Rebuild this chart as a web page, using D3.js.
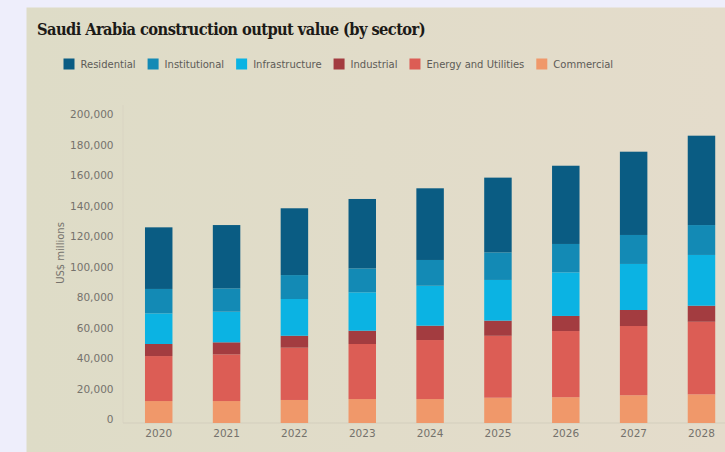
<!DOCTYPE html>
<html lang="en">

<head>
    <meta charset="UTF-8">
    <title>Saudi Arabia construction output value (by sector)</title>
    <script src="https://d3js.org/d3.v7.min.js"></script>
    <style>
        body {
            margin: 0;
            padding: 0;
            background: #eeeefb;
            font-family: "DejaVu Sans", sans-serif;
        }

        #chart {
            width: 725px;
            height: 452px;
        }
    </style>
</head>

<body>
    <div id="chart"></div>

    <script>
        // Data (US$ millions, thousands)
        const years = ['2020', '2021', '2022', '2023', '2024', '2025', '2026', '2027', '2028'];
        const sectors = ['Residential', 'Institutional', 'Infrastructure', 'Industrial', 'Energy and Utilities', 'Commercial'];
        const sectorColors = ['#0a5c83', '#138ab5', '#0bb3e3', '#a33c40', '#dc5d55', '#f0986a'];

        const commercial = [14.4, 14.4, 15.1, 15.7, 15.7, 16.6, 16.9, 18.2, 18.8];
        const energy = [29.5, 30.6, 34.3, 36.1, 38.7, 40.6, 43.4, 45.4, 47.6];
        const industrial = [7.9, 7.9, 7.8, 8.7, 9.4, 9.9, 9.9, 10.5, 10.5];
        const infrastructure = [20.1, 20.1, 24.1, 25.2, 26.2, 26.7, 28.6, 30.2, 33.3];
        const institutional = [16.0, 15.3, 15.7, 15.7, 16.9, 18.1, 18.6, 19.0, 19.6];
        const residential = [40.4, 41.5, 43.8, 45.5, 47.0, 49.0, 51.3, 54.6, 58.6];

        const yTicks = [0, 20000, 40000, 60000, 80000, 100000, 120000, 140000, 160000, 180000, 200000];

        // stacking order, bottom to top
        const stackKeys = ['Commercial', 'Energy and Utilities', 'Industrial', 'Infrastructure', 'Institutional', 'Residential'];
        const rows = years.map((y, i) => ({
            year: y,
            'Commercial': commercial[i] * 1000,
            'Energy and Utilities': energy[i] * 1000,
            'Industrial': industrial[i] * 1000,
            'Infrastructure': infrastructure[i] * 1000,
            'Institutional': institutional[i] * 1000,
            'Residential': residential[i] * 1000
        }));

        const width = 725;
        const height = 452;

        const svg = d3.select('#chart')
            .append('svg')
            .attr('width', width)
            .attr('height', height);

        const grad = svg.append('defs').append('linearGradient')
            .attr('id', 'panelBg')
            .attr('x1', 0).attr('x2', 1).attr('y1', 0).attr('y2', 0);
        grad.append('stop').attr('offset', 0).attr('stop-color', '#dedcc7');
        grad.append('stop').attr('offset', 1).attr('stop-color', '#e4dccb');

        // panel
        svg.append('rect')
            .attr('x', 26.5)
            .attr('y', 7.5)
            .attr('width', width - 26.5)
            .attr('height', height - 7.5)
            .attr('fill', 'url(#panelBg)');

        // title
        svg.append('text')
            .attr('x', 37)
            .attr('y', 35)
            .attr('textLength', 388)
            .attr('lengthAdjust', 'spacingAndGlyphs')
            .style('font-family', '"DejaVu Serif", serif')
            .style('font-stretch', 'condensed')
            .style('font-weight', 'bold')
            .style('font-size', '16.5px')
            .style('letter-spacing', '-0.6px')
            .style('fill', '#1c1a17')
            .text('Saudi Arabia construction output value (by sector)');

        // legend
        const color = d3.scaleOrdinal().domain(sectors).range(sectorColors);
        const legend = svg.append('g').attr('transform', 'translate(63.5,58.5)');
        let lx = 0;
        sectors.forEach(s => {
            const g = legend.append('g').attr('transform', `translate(${lx},0)`);
            g.append('rect')
                .attr('width', 11)
                .attr('height', 11)
                .attr('fill', color(s));
            const t = g.append('text')
                .attr('x', 17)
                .attr('y', 9.5)
                .style('font-size', '10px')
                .style('fill', '#5d5b57')
                .text(s);
            lx += 17 + t.node().getComputedTextLength() + 12;
        });

        // scales
        const x = d3.scaleBand()
            .domain(years)
            .range([124.8, 735.4])
            .paddingInner(0.595)
            .paddingOuter(0.2975);

        const y = d3.scaleLinear()
            .domain([0, 200000])
            .range([423, 118]);

        // faint axis lines
        svg.append('line')
            .attr('x1', 123).attr('x2', 123)
            .attr('y1', 105).attr('y2', 423)
            .attr('stroke', '#d9d4c2');
        svg.append('line')
            .attr('x1', 123).attr('x2', width)
            .attr('y1', 423).attr('y2', 423)
            .attr('stroke', '#d3cebd');

        // y axis
        const yAxis = d3.axisLeft(y)
            .tickValues(yTicks)
            .tickSize(0)
            .tickPadding(0)
            .tickFormat(d3.format(','));

        svg.append('g')
            .attr('transform', 'translate(113.5,-3.5)')
            .call(yAxis)
            .call(g => g.select('.domain').remove())
            .selectAll('text')
            .style('font-family', '"DejaVu Sans", sans-serif')
            .style('font-size', '10.5px')
            .style('fill', '#75726c');

        // x axis
        const xAxis = d3.axisBottom(x).tickSize(0).tickPadding(0);
        svg.append('g')
            .attr('transform', 'translate(0,430)')
            .call(xAxis)
            .call(g => g.select('.domain').remove())
            .selectAll('text')
            .style('font-family', '"DejaVu Sans", sans-serif')
            .style('font-size', '10.5px')
            .style('fill', '#75726c');

        // y axis title
        svg.append('text')
            .attr('transform', 'translate(64,253) rotate(-90)')
            .attr('text-anchor', 'middle')
            .style('font-size', '10px')
            .style('fill', '#75726c')
            .text('US$ millions');

        // stacked bars
        const stack = d3.stack().keys(stackKeys);
        const series = stack(rows);

        svg.append('g')
            .selectAll('g')
            .data(series)
            .enter()
            .append('g')
            .attr('fill', d => color(d.key))
            .selectAll('rect')
            .data(d => d)
            .enter()
            .append('rect')
            .attr('x', d => x(d.data.year))
            .attr('y', d => y(d[1]))
            .attr('height', d => y(d[0]) - y(d[1]))
            .attr('width', x.bandwidth());
    </script>
</body>

</html>
